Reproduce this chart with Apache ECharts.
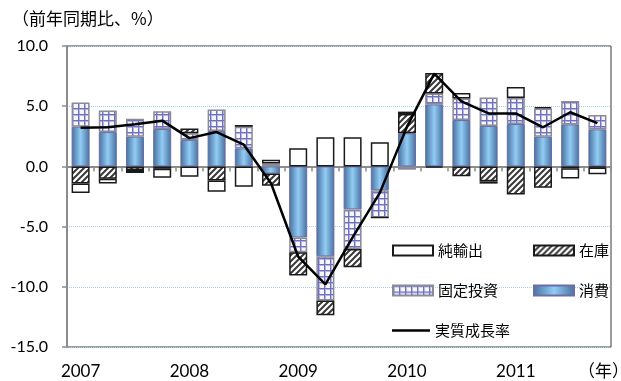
<!DOCTYPE html>
<html>
<head>
<meta charset="utf-8">
<script src="https://cdn.jsdelivr.net/npm/echarts@6/dist/echarts.min.js"></script>
<style>
  html, body { margin: 0; padding: 0; background: #fff; }
  #chart { width: 621px; height: 381px; }
</style>
</head>
<body>
<div id="chart"></div>
<script>
// 四半期（2007Q1〜2011Q4）
const quarters = [
  '2007Q1', '2007Q2', '2007Q3', '2007Q4',
  '2008Q1', '2008Q2', '2008Q3', '2008Q4',
  '2009Q1', '2009Q2', '2009Q3', '2009Q4',
  '2010Q1', '2010Q2', '2010Q3', '2010Q4',
  '2011Q1', '2011Q2', '2011Q3', '2011Q4'
];

// 寄与度（前年同期比、%）
const consumption = [3.3, 2.85, 2.47, 3.1, 2.2, 2.94, 1.5, -0.6, -5.9, -7.47, -3.57, -1.98, 2.75, 5.15, 3.85, 3.36, 3.52, 2.47, 3.49, 3.08];
const fixedInvestment = [2.0, 1.79, 1.49, 1.49, 0.55, 1.79, 1.79, 0.25, -1.24, -3.66, -3.3, -2.27, -0.27, 0.9, 1.79, 2.36, 2.17, 2.34, 1.95, 1.18];
const inventory = [-1.43, -1.02, -0.3, -0.2, 0.4, -1.18, 0.15, -1.0, -1.93, -1.24, -1.5, 0, 1.6, 1.7, -0.82, -1.24, -2.33, -1.78, -0.15, -0.1];
const netExports = [-0.77, -0.41, -0.25, -0.75, -0.85, -0.93, -1.7, 0.3, 1.51, 2.42, 2.42, 2.0, 0.2, -0.1, 0.45, -0.19, 0.91, 0.12, -0.85, -0.55];
const growthRate = [3.2, 3.25, 3.5, 3.8, 2.35, 2.85, 1.8, -1.4, -7.5, -9.8, -5.9, -2.2, 3.3, 7.7, 5.4, 4.4, 4.4, 3.25, 4.5, 3.6];

const numFont = 'Lato';
const cjkFont = '"Noto Sans CJK JP"';

// 斜線パターン（在庫）
function makeHatch() {
  const c = document.createElement('canvas');
  c.width = 6; c.height = 6;
  const g = c.getContext('2d');
  g.fillStyle = '#ffffff';
  g.fillRect(0, 0, 6, 6);
  g.strokeStyle = '#3a3a3a';
  g.lineWidth = 2;
  g.beginPath();
  g.moveTo(-1, 7); g.lineTo(7, -1);
  g.moveTo(-4, 4); g.lineTo(4, -4);
  g.moveTo(2, 10); g.lineTo(10, 2);
  g.stroke();
  return c;
}

// 格子パターン（固定投資）
function makeGrid() {
  const c = document.createElement('canvas');
  c.width = 6; c.height = 6;
  const g = c.getContext('2d');
  g.fillStyle = '#f6f6ff';
  g.fillRect(0, 0, 6, 6);
  g.fillStyle = '#b6b6e2';
  g.fillRect(0, 0, 6, 2);
  g.fillRect(0, 0, 2, 6);
  g.fillStyle = '#7070bc';
  g.fillRect(0, 0, 6, 1);
  g.fillRect(0, 0, 1, 6);
  return c;
}

const hatchColor = { image: makeHatch(), repeat: 'repeat' };
const gridColor = { image: makeGrid(), repeat: 'repeat' };
const blueGradient = {
  type: 'linear', x: 0, y: 0, x2: 1, y2: 0,
  colorStops: [
    { offset: 0, color: '#46709f' },
    { offset: 0.5, color: '#92ccf4' },
    { offset: 1, color: '#46709f' }
  ]
};

const chart = echarts.init(document.getElementById('chart'), null, { renderer: 'canvas' });

const legendBase = {
  orient: 'horizontal',
  padding: 0,
  itemWidth: 40,
  itemHeight: 10,
  selectedMode: false,
  textStyle: { fontFamily: cjkFont, fontSize: 15, color: '#000' }
};

const option = {
  animation: false,
  backgroundColor: '#fff',
  grid: {
    left: 67, right: 10, top: 46, bottom: 34,
    show: true,
    borderColor: '#3a3a3a',
    borderWidth: 1,
    containLabel: false,
    outerBoundsMode: 'none'
  },
  graphic: [
    {
      type: 'text', left: 12, top: 10,
      style: { text: '（前年同期比、%）', font: '17px ' + cjkFont, fill: '#000' }
    },
    {
      type: 'text', left: 578, top: 362,
      style: { text: '（年）', font: '17px ' + cjkFont, fill: '#000' }
    }
  ],
  legend: [
    Object.assign({}, legendBase, { data: [{ name: '純輸出', icon: 'rect' }], left: 392, top: 243 }),
    Object.assign({}, legendBase, { data: [{ name: '在庫', icon: 'rect' }], left: 533, top: 243 }),
    Object.assign({}, legendBase, { data: [{ name: '固定投資', icon: 'rect' }], left: 392, top: 283 }),
    Object.assign({}, legendBase, { data: [{ name: '消費', icon: 'rect' }], left: 533, top: 283 }),
    Object.assign({}, legendBase, {
      data: [{ name: '実質成長率', icon: 'rect', itemStyle: { color: '#000' } }],
      left: 392, top: 323, itemWidth: 38, itemHeight: 2.5
    })
  ],
  xAxis: [
    {
      type: 'category',
      data: quarters,
      position: 'bottom',
      axisLine: { onZero: true, lineStyle: { color: '#8c8c8c', width: 2 } },
      axisTick: { show: true, interval: 0, length: 5, lineStyle: { color: '#8c8c8c', width: 1.5 } },
      axisLabel: { show: false },
      splitLine: { show: false }
    },
    {
      type: 'category',
      data: quarters,
      position: 'bottom',
      axisLine: { show: false, onZero: false },
      axisTick: { show: false },
      axisLabel: {
        interval: 3,
        margin: 16,
        color: '#000',
        fontFamily: numFont,
        fontSize: 17,
        formatter: (v) => v.slice(0, 4)
      },
      splitLine: { show: false }
    }
  ],
  yAxis: {
    type: 'value',
    min: -15,
    max: 10,
    interval: 5,
    axisLine: { show: true, lineStyle: { color: '#8c8c8c', width: 2 } },
    axisTick: { show: true, length: 5, lineStyle: { color: '#8c8c8c', width: 1.5 } },
    axisLabel: {
      margin: 19,
      color: '#000',
      fontFamily: numFont,
      fontSize: 16,
      formatter: (v) => v.toFixed(1)
    },
    splitLine: { show: true, lineStyle: { color: '#9fd4ea', type: 'dotted', width: 1 } }
  },
  series: [
    {
      name: '消費',
      type: 'bar',
      stack: 'gdp',
      barWidth: 18,
      data: consumption,
      itemStyle: { color: blueGradient, borderColor: '#6c6ca6', borderWidth: 1 }
    },
    {
      name: '固定投資',
      type: 'bar',
      stack: 'gdp',
      barWidth: 18,
      data: fixedInvestment,
      itemStyle: { color: gridColor, borderColor: '#8a8a98', borderWidth: 1.5 }
    },
    {
      name: '在庫',
      type: 'bar',
      stack: 'gdp',
      barWidth: 18,
      data: inventory,
      itemStyle: { color: hatchColor, borderColor: '#1a1a1a', borderWidth: 1.5 }
    },
    {
      name: '純輸出',
      type: 'bar',
      stack: 'gdp',
      barWidth: 18,
      data: netExports,
      itemStyle: { color: '#ffffff', borderColor: '#1a1a1a', borderWidth: 1.5 }
    },
    {
      name: '実質成長率',
      type: 'line',
      data: growthRate,
      symbol: 'none',
      showSymbol: false,
      z: 5,
      itemStyle: { color: '#000' },
      lineStyle: { color: '#000', width: 2.5 }
    }
  ]
};

chart.setOption(option);
</script>
</body>
</html>
